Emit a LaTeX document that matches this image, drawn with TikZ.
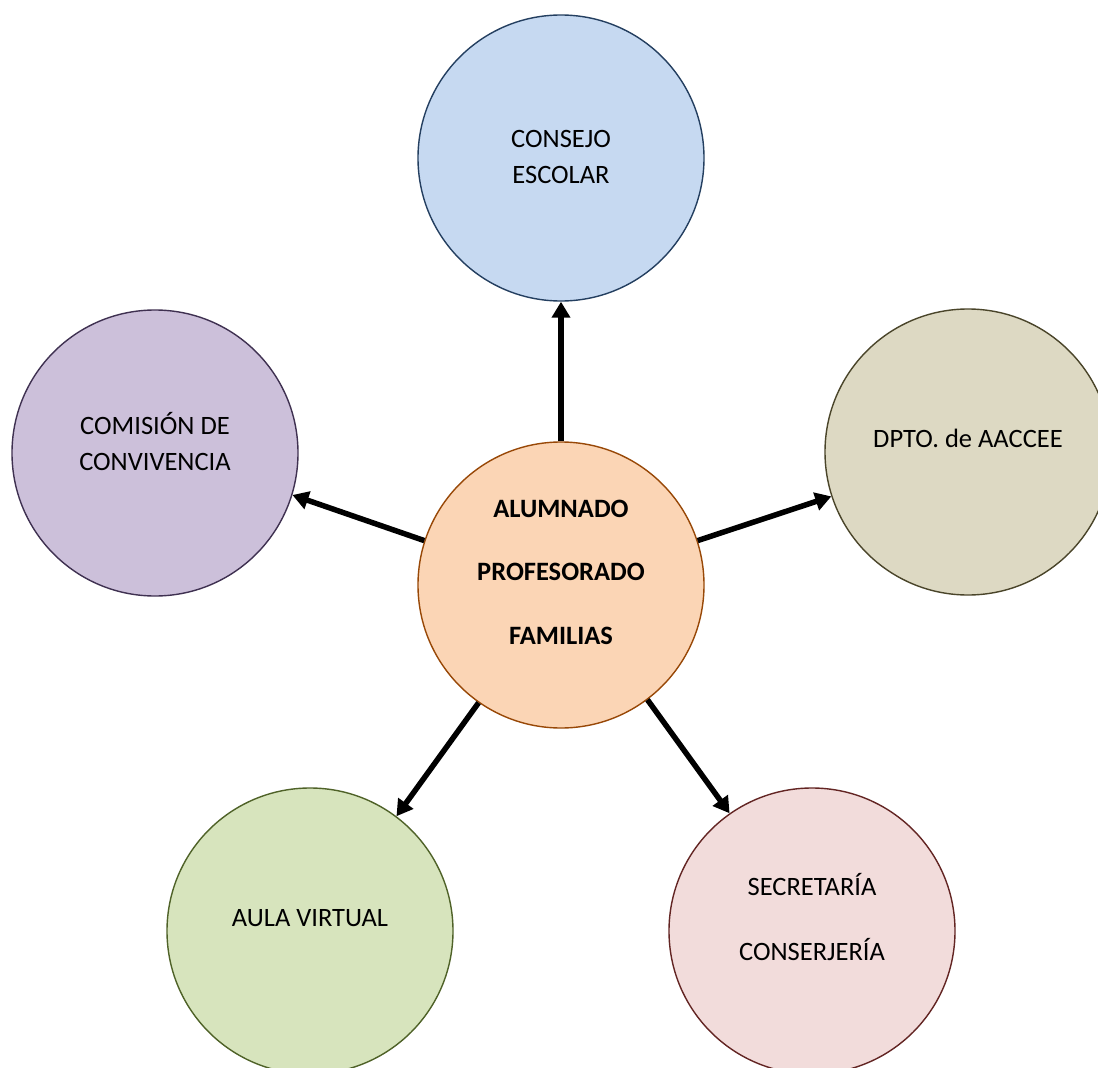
\documentclass[tikz,border=0pt]{standalone}
\usepackage{fontspec}
\setmainfont{Carlito}
\usetikzlibrary{arrows.meta}
\definecolor{fTop}{HTML}{C6D9F1}\definecolor{dTop}{HTML}{243F60}
\definecolor{fLeft}{HTML}{CCC0DA}\definecolor{dLeft}{HTML}{3F3151}
\definecolor{fRight}{HTML}{DDD9C3}\definecolor{dRight}{HTML}{4A452A}
\definecolor{fMid}{HTML}{FBD5B5}\definecolor{dMid}{HTML}{984807}
\definecolor{fBL}{HTML}{D7E4BD}\definecolor{dBL}{HTML}{4F6228}
\definecolor{fBR}{HTML}{F2DCDB}\definecolor{dBR}{HTML}{632523}
\begin{document}
\begin{tikzpicture}[x=1pt,y=-1pt,
  bubble/.style={circle, minimum size=286pt, inner sep=0pt, line width=1.4pt},
  lbl/.style={font=\fontsize{26.5}{36}\selectfont, align=center, inner sep=0pt},
  conn/.style={line width=5.5pt, -{Triangle[length=16pt,width=18pt]}}]
\useasboundingbox (0,0) rectangle (1098,1068);
\clip (0,0) rectangle (1098,1068);
\fill[white] (0,0) rectangle (1098,1068);
% circles
\node[bubble, draw=dTop, fill=fTop] (top) at (561,158) {};
\node[bubble, draw=dLeft, fill=fLeft] (left) at (155,453) {};
\node[bubble, draw=dRight, fill=fRight] (right) at (968,452) {};
\node[bubble, draw=dMid, fill=fMid] (mid) at (561,585) {};
\node[bubble, draw=dBL, fill=fBL] (bl) at (310,931) {};
\node[bubble, draw=dBR, fill=fBR] (br) at (812,931) {};
% labels
\node[lbl] (ttop) at (561,157) {CONSEJO\\ESCOLAR};
\node[lbl] (tleft) at (155,442) {COMISIÓN DE\\CONVIVENCIA};
\node[lbl] (tright) at (968,438) {DPTO. de AACCEE};
\node[lbl, font=\fontsize{26.5}{63.5}\selectfont\bfseries] (tmid) at (561,572) {ALUMNADO\\PROFESORADO\\FAMILIAS};
\node[lbl] (tbl) at (310,918) {AULA VIRTUAL};
\node[lbl, font=\fontsize{26.5}{65}\selectfont] (tbr) at (812,917) {SECRETARÍA\\CONSERJERÍA};
% connectors
\draw[conn] (mid.90) -- (top.-90);
\draw[conn] (mid.162.5) -- (left.-17.8);
\draw[conn] (mid.18.3) -- (right.198.3);
\draw[conn] (mid.-125.7) -- (bl.53.8);
\draw[conn] (mid.-53.7) -- (br.125.9);
\end{tikzpicture}
\end{document}
